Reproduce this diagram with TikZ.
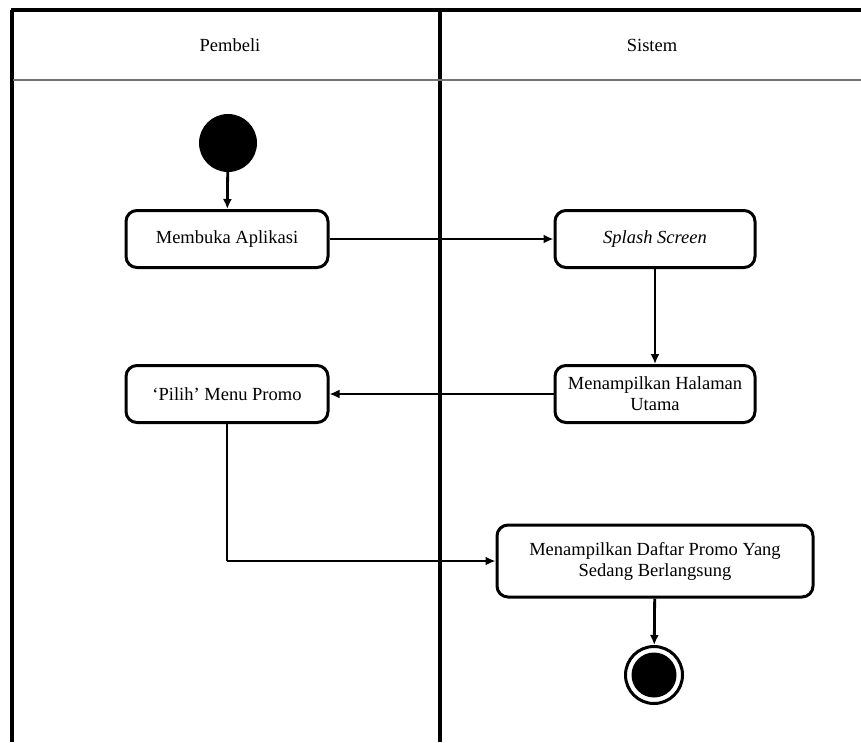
\documentclass[tikz,border=0pt]{standalone}
\usepackage{fontspec}
\setmainfont{Liberation Serif}
\usetikzlibrary{arrows.meta}
\begin{document}
\begin{tikzpicture}[x=1pt,y=-1pt,
  lane/.style={line width=3.4pt,black},
  txt/.style={font=\fontsize{18.5}{21}\selectfont},
  act/.style={draw,line width=3pt,rounded corners=11pt,fill=white,
    inner sep=0pt,align=center,txt},
  flow/.style={line width=2.8pt,-{Latex[length=10pt,width=9pt]}},
  flowline/.style={line width=2.8pt}]
\useasboundingbox (0,0) rectangle (861,742);
% swimlane frame
\draw[lane] (11,10) -- (861,10);
\draw[lane] (12,10) -- (12,742);
\draw[lane] (440,10) -- (440,742);
\draw[line width=2.2pt,black!55] (13,80) -- (861,80);
\node[txt] (hb) at (230,45) {Pembeli};
\node[txt] (hs) at (652,45) {Sistem};
% start and end states
\node[circle,fill=black,minimum size=58pt,inner sep=0pt] (start) at (228,143) {};
\node[circle,draw,line width=3pt,fill=white,minimum size=57pt,inner sep=0pt] (stop) at (654,675) {};
\node[circle,fill=black,minimum size=45pt,inner sep=0pt] (stopin) at (654,675) {};
% activities
\node[act,minimum width=202pt,minimum height=57pt] (buka) at (227,239) {Membuka Aplikasi};
\node[act,minimum width=200pt,minimum height=57pt] (splash) at (655,239) {\textit{Splash Screen}};
\node[act,minimum width=200pt,minimum height=57pt] (utama) at (655,394) {Menampilkan Halaman\\Utama};
\node[act,minimum width=202pt,minimum height=57pt] (pilih) at (227,394) {`Pilih' Menu Promo};
\node[act,minimum width=316pt,minimum height=72pt] (daftar) at (655,561) {Menampilkan Daftar Promo Yang\\Sedang Berlangsung};
% transitions
\coordinate (bend) at (pilih.south |- daftar.west);
\draw[flow] (start) -- (buka);
\draw[flow] (buka) -- (splash);
\draw[flow] (splash) -- (utama);
\draw[flow] (utama) -- (pilih);
\draw[flowline] (pilih.south) -- (bend);
\draw[flow] (bend) -- (daftar.west);
\draw[flow] (daftar) -- (stop);
\end{tikzpicture}
\end{document}
